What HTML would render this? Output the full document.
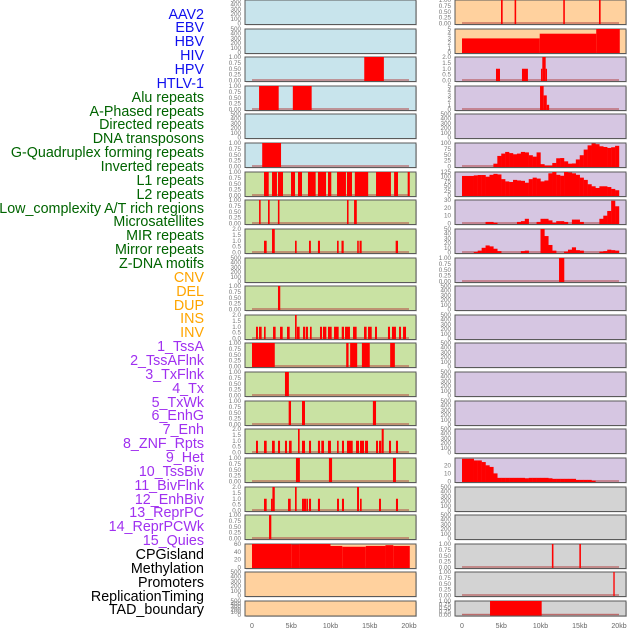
<!DOCTYPE html>
<html><head><meta charset="utf-8">
<style>
body{margin:0;background:#fff;width:630px;height:630px;overflow:hidden;font-family:"Liberation Sans",sans-serif}
#lab{position:absolute;left:0;top:0;width:204px}
.lb{position:absolute;right:0;font-size:14.3px;line-height:14px;white-space:nowrap}
svg{position:absolute;left:0;top:0}
</style></head><body>
<div id="lab"></div>
<svg id="chart" width="630" height="630"></svg>
<script>
// ---- data ----
const trackNames = ["AAV2","EBV","HBV","HIV","HPV","HTLV-1","Alu repeats","A-Phased repeats","Directed repeats","DNA transposons","G-Quadruplex forming repeats","Inverted repeats","L1 repeats","L2 repeats","Low_complexity A/T rich regions","Microsatellites","MIR repeats","Mirror repeats","Z-DNA motifs","CNV","DEL","DUP","INS","INV","1_TssA","2_TssAFlnk","3_TxFlnk","4_Tx","5_TxWk","6_EnhG","7_Enh","8_ZNF_Rpts","9_Het","10_TssBiv","11_BivFlnk","12_EnhBiv","13_ReprPC","14_ReprPCWk","15_Quies","CPGisland","Methylation","Promoters","ReplicationTiming","TAD_boundary"];
const trackGroups = ["virus","virus","virus","virus","virus","virus","repeat","repeat","repeat","repeat","repeat","repeat","repeat","repeat","repeat","repeat","repeat","repeat","repeat","sv","sv","sv","sv","sv","chrom","chrom","chrom","chrom","chrom","chrom","chrom","chrom","chrom","chrom","chrom","chrom","chrom","chrom","chrom","other","other","other","other","other"];
const xTickLabels = ["0","5kb","10kb","15kb","20kb"];
const xTickKb = [0,5,10,15,20];

// interval tracks: [startKb, endKb, value]
const hbvBars = [[14.3,16.8,1]];
const hivBars = [[0.9,3.4,1],[5.2,7.6,1]];
const htlvBars = [[1.3,3.7,1]];
const aluBars = [[1.53,2.13,1],[2.55,3.18,1],[3.31,3.95,1],[4.97,5.48,1],[5.86,6.37,1],[7.13,8.11,1],[8.4,9.43,1],[9.68,10.1,1],[10.83,11.97,1],[12.1,12.74,1],[13.1,14.8,1],[15.8,17.7,1],[18.1,18.6,1],[19.83,20.1,1]];
const aphasedBars = [[0.9,1.1,1],[2.04,2.25,1],[3.3,3.5,1],[12.1,12.3,1],[13.0,13.35,1]];
const directedBars = [[1.53,1.87,1],[2.55,2.9,2],[5.48,5.69,1],[7.26,7.5,1],[8.4,8.66,1],[10.83,11.04,1],[11.4,11.68,1],[13.4,13.6,1],[13.7,13.97,1],[18.3,18.6,1]];
const gquadBars = [[3.31,3.6,1]];
const invertedBars = [[0.51,0.76,1],[0.89,1.23,1],[1.53,1.74,1],[2.68,3.01,1],[3.57,3.91,1],[4.46,4.8,1],[5.48,5.69,2],[5.73,6.07,1],[6.5,6.75,1],[6.84,7.13,1],[7.39,7.6,1],[8.66,8.92,1],[9.04,9.47,1],[9.68,10.15,1],[10.45,11.04,1],[11.43,11.72,1],[11.85,12.48,1],[12.87,13.33,1],[14.27,14.6,1],[14.78,15.25,1],[15.67,15.92,1],[17.32,17.58,1],[17.83,18.34,1],[18.73,18.98,1],[19.24,19.62,1]];
const l1Bars = [[0,2.9,1],[12.0,12.3,1],[12.5,13.4,1],[14.0,15.0,1],[17.6,18.2,1]];
const l2Bars = [[4.2,4.7,1]];
const lowCompBars = [[4.67,4.97,1],[6.37,6.75,1],[15.4,15.8,1]];
const microsatBars = [[0.51,0.76,1],[1.53,1.87,1],[2.55,2.9,1],[3.31,3.57,1],[4.2,4.46,1],[4.71,5.05,1],[5.86,6.07,2],[6.37,6.75,1],[7.26,7.52,1],[8.4,8.66,1],[8.83,9.17,1],[9.68,10.06,1],[10.83,11.04,1],[11.46,11.72,1],[12.1,12.83,1],[13.25,13.63,1],[13.76,14.27,1],[14.4,14.78,1],[15.8,16.05,1],[16.18,16.47,1],[16.52,16.78,2],[17.45,17.71,1],[18.34,18.6,1]];
const mirBars = [[5.6,6.1,1],[9.8,10.2,1],[17.96,18.34,1]];
const mirrorBars = [[1.53,1.87,1],[2.42,2.6,1],[2.6,2.9,2],[4.59,4.93,1],[5.48,5.69,2],[6.37,6.62,1],[6.62,6.88,1],[6.92,7.13,1],[7.26,7.52,1],[8.4,8.66,1],[10.83,11.08,1],[11.46,11.72,1],[13.38,13.63,2],[13.76,13.97,1],[16.18,16.43,1],[18.34,18.6,1]];
const zdnaBars = [[2.17,2.46,1]];
const cnvBars = [[0,5,60],[5,6,59],[6,10,60],[10,11.5,55],[11.5,14.5,53],[14.5,17,55],[17,18,57],[18,20.1,55]];
const insBars = [[4.97,5.18,1],[6.7,6.9,1],[12.9,13.1,1],[17.45,17.66,1]];
const invBars = [[0,9.9,3],[9.9,17.1,4],[17.1,20.1,5]];
const tssABars = [[4.33,4.84,1],[7.64,8.4,1],[10.06,10.23,1],[10.23,10.66,2],[10.66,10.83,1]];
const tssAFlnkBars = [[9.94,10.4,5],[10.4,10.8,3],[10.8,11.1,1]];
const znfBars = [[12.36,13.03,1]];
const promoterBars = [[11.45,11.65,1],[14.95,15.15,1]];
const replicationBars = [[19.28,19.45,1]];
const tadBars = [[3.57,10.15,1]];

// binned profile tracks (0.5kb bins, 40 values)
const txValues = [0,0,0,0,0,0,0,0,12,45,55,62,57,52,55,62,60,48,42,60,10,4,4,15,35,36,22,12,13,30,48,72,90,98,95,86,83,79,82,88];
const txWkValues = [104,104,104,107,109,109,100,110,115,112,87,75,72,83,80,78,68,87,95,90,75,80,118,125,110,105,125,122,118,110,95,83,60,49,40,49,49,45,35,28];
const enhGValues = [0,0,0,0,0,0,2,2,1,0,0,0,0,0,2,3,6,0,0,2,6,6,4,1,3,3,2,0,5,5,2,0,0,0,0,6,10,16,29,22];
const enhValues = [0,0,0,1,4,10,15,13,8,3,0,0,0,0,0,3,4,0,0,0,50,35,16,4,0,0,2,6,11,5,4,0,0,0,0,2,3,6,5,4];
const quiesValues = [28,28,28,26,26,24,20,18,10,4.5,4.5,4.5,4.5,4.5,4.5,4.5,4,4.5,4.5,4.5,4.5,4.5,4,3.3,3.3,3.3,3.3,3.3,3.3,2,2,2,2,1,0,0,0,0,0,0];

// tick label sets
const ticksEmpty = ["0","100","200","300","400","500"];
const ticksFrac = ["0.00","0.25","0.50","0.75","1.00"];
const ticksTwo = ["0.0","0.5","1.0","1.5","2.0"];
const ticksFive = ["0","1","2","3","4","5"];
const ticksCnv = ["0","20","40","60"];
const ticksTx = ["0","25","50","75","100"];
const ticksTxWk = ["0","25","50","75","100","125"];
const ticksEnhG = ["0","10","20","30"];
const ticksEnh = ["0","10","20","30","40","50"];
const ticksQuies = ["0","10","20"];

// per-track: [data, kind, ticks, ymax]
const trackData = [
 [null,"e",ticksEmpty,500],[null,"e",ticksEmpty,500],[hbvBars,"i",ticksFrac,1],[hivBars,"i",ticksFrac,1],[null,"e",ticksEmpty,500],[htlvBars,"i",ticksFrac,1],
 [aluBars,"i",ticksFrac,1],[aphasedBars,"i",ticksFrac,1],[directedBars,"i",ticksTwo,2],[null,"e",ticksEmpty,500],[gquadBars,"i",ticksFrac,1],[invertedBars,"i",ticksTwo,2],
 [l1Bars,"i",ticksFrac,1],[l2Bars,"i",ticksFrac,1],[lowCompBars,"i",ticksFrac,1],[microsatBars,"i",ticksTwo,2],[mirBars,"i",ticksFrac,1],[mirrorBars,"i",ticksTwo,2],[zdnaBars,"i",ticksFrac,1],
 [cnvBars,"i",ticksCnv,60],[null,"e",ticksEmpty,500],[null,"e",ticksEmpty,500],
 [insBars,"i",ticksFrac,1],[invBars,"i",ticksFive,5],[tssABars,"i",ticksTwo,2],[tssAFlnkBars,"i",ticksFive,5],[null,"e",ticksEmpty,500],
 [txValues,"p",ticksTx,100],[txWkValues,"p",ticksTxWk,125],[enhGValues,"p",ticksEnhG,30],[enhValues,"p",ticksEnh,50],[znfBars,"i",ticksFrac,1],
 [null,"e",ticksEmpty,500],[null,"e",ticksEmpty,500],[null,"e",ticksEmpty,500],[null,"e",ticksEmpty,500],[null,"e",ticksEmpty,500],[null,"e",ticksEmpty,500],
 [quiesValues,"p",ticksQuies,29],
 [null,"e",ticksEmpty,500],[null,"e",ticksEmpty,500],[promoterBars,"i",ticksFrac,1],[replicationBars,"i",ticksFrac,1],[tadBars,"i",ticksFrac,1]
];

const labelColors = {virus:"#1010ee",repeat:"#006400",sv:"#ffa500",chrom:"#a030f0",other:"#000"};
const leftBg = {virus:"#c8e4ec",repeat:"#c9e2a3",sv:"#ffd19e"};
const rightBg = {sv:"#ffd19e",chrom:"#d6c6e2",other:"#d3d3d3"};

// ---- render ----
const NS="http://www.w3.org/2000/svg";
const svg=document.getElementById('chart');
const lab=document.getElementById('lab');
function mk(t,a,p){const e=document.createElementNS(NS,t);for(const k in a)e.setAttribute(k,a[k]);(p||svg).appendChild(e);return e;}

trackNames.forEach((n,i)=>{
  const d=document.createElement('div');
  d.className='lb';
  
  
  d.style.top=(15+i*13.86-7.5)+'px';
  d.style.color=labelColors[trackGroups[i]];
  d.textContent=n;
  lab.appendChild(d);
});

const PW=171;
trackNames.forEach((n,i)=>{
  const col=i<22?0:1, row=i%22;
  const px=col?455:245;
  const top=Math.round(row*28.62);
  const h=row===21?15:24.5;
  const x0=px+7, kbW=7.85;
  const xS=kb=>x0+kb*kbW;
  const [data,kind,ticks,ymax]=trackData[i];
  const yS=v=>top+(h-1)-(v/ymax)*(h-1);
  const bg=(col?rightBg:leftBg)[trackGroups[i]];
  const g=mk('g',{});
  
  
  mk('rect',{x:px+1,y:top+1,width:PW,height:h,fill:'#aaa',opacity:0.5},g);
  mk('rect',{x:px,y:top,width:PW,height:h,fill:bg,stroke:'#5a5a5a','stroke-width':1},g);
  ticks.forEach((t,k)=>{
    const v=kind==='e'?k*100:parseFloat(t);
    const tx=mk('text',{x:px-4,y:yS(v)+2,'text-anchor':'end','font-size':'6.3px',fill:'#777'},g);
    
    
    tx.textContent=t;
  });
  if(kind==='e')return;
  mk('rect',{x:xS(0),y:top+h-2.2,width:20*kbW,height:1.4,fill:'#b24040',opacity:0.7},g);
  if(kind==='i'){
    data.forEach(b=>{
      const r=mk('rect',{x:xS(b[0]),y:yS(b[2]),width:Math.max(1.2,xS(b[1])-xS(b[0])),height:yS(0)-yS(b[2])+0.5,fill:'#ff0000'},g);
      
      
    });
  } else {
    data.forEach((v,k)=>{
      if(v<=0)return;
      const r=mk('rect',{x:xS(k*0.5),y:yS(v),width:0.5*kbW+0.2,height:yS(0)-yS(v)+0.5,fill:'#ff0000'},g);
      
      
    });
  }
});
[252,462].forEach(base=>{
  xTickKb.forEach((kb,k)=>{
    const t=mk('text',{x:base+kb*7.85,y:628,'text-anchor':'middle','font-size':'7px',fill:'#666'});
    
    
    t.textContent=xTickLabels[k];
  });
});
</script>
</body></html>
